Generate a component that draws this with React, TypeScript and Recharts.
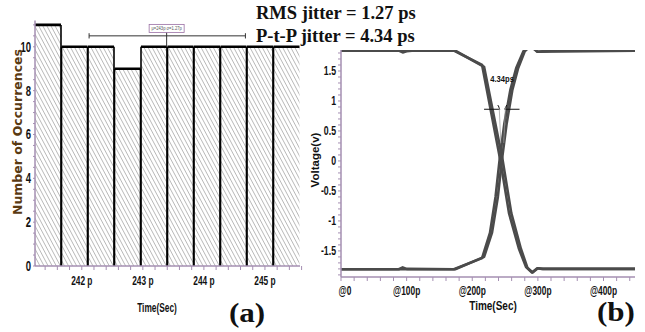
import React from 'react';
import { ComposedChart, Bar, XAxis, YAxis, ReferenceLine, ReferenceDot, LineChart, Line } from 'recharts';

// ---- panel (a): jitter histogram ----
const binCenters = [241.451, 241.885, 242.319, 242.753, 243.187, 243.621, 244.055, 244.489, 244.923, 245.357];
const occurrences = [11, 10, 10, 9, 10, 10, 10, 10, 10, 10];
const histMajorTicks = [242, 243, 244, 245];
const histYLabels = [0, 2, 4, 6, 8, 10];
const histStats = { mean: 243.39, from: 242.12, to: 244.68, text: 'μ=243p σ=1.27p' };

// ---- panel (b): eye crossing ----
const fallingA = [
  { t: 0, v: 1.84 }, { t: 88, v: 1.84 }, { t: 94, v: 1.81 }, { t: 100, v: 1.83 }, { t: 108, v: 1.84 },
  { t: 172, v: 1.84 }, { t: 215, v: 1.6 }, { t: 243, v: 0 }, { t: 256, v: -0.87 }, { t: 271, v: -1.46 },
  { t: 282, v: -1.77 }, { t: 291, v: -1.86 }, { t: 299, v: -1.79 }, { t: 306, v: -1.8 }, { t: 448, v: -1.8 },
];
const fallingB = [
  { t: 0, v: 1.84 }, { t: 174, v: 1.84 }, { t: 218, v: 1.57 }, { t: 246.5, v: 0 }, { t: 259.5, v: -0.87 },
  { t: 274, v: -1.46 }, { t: 284, v: -1.78 }, { t: 292, v: -1.86 }, { t: 300, v: -1.79 }, { t: 308, v: -1.8 },
  { t: 448, v: -1.8 },
];
const risingA = [
  { t: 0, v: -1.805 }, { t: 88, v: -1.805 }, { t: 94, v: -1.775 }, { t: 100, v: -1.8 }, { t: 172, v: -1.805 },
  { t: 215, v: -1.62 }, { t: 227, v: -1.2 }, { t: 235.5, v: -0.6 }, { t: 241.5, v: 0 }, { t: 249, v: 0.63 },
  { t: 258, v: 1.18 }, { t: 267, v: 1.55 }, { t: 278, v: 1.83 }, { t: 286, v: 1.9 }, { t: 292, v: 1.89 },
  { t: 299, v: 1.82 }, { t: 308, v: 1.83 }, { t: 320, v: 1.84 }, { t: 448, v: 1.84 },
];
const risingB = [
  { t: 0, v: -1.805 }, { t: 174, v: -1.805 }, { t: 218, v: -1.6 }, { t: 230, v: -1.2 }, { t: 239, v: -0.6 },
  { t: 245, v: 0 }, { t: 252.5, v: 0.63 }, { t: 261, v: 1.18 }, { t: 270, v: 1.55 }, { t: 280, v: 1.83 },
  { t: 287, v: 1.9 }, { t: 293, v: 1.88 }, { t: 300, v: 1.82 }, { t: 448, v: 1.84 },
];
const eyeXLabels = [0, 100, 200, 300, 400];
const eyeYLabels = [-1.5, -1, -0.5, 0, 0.5, 1, 1.5];
const ptpMark = { level: 0.862, leftFrom: 218, leftTo: 242, rightFrom: 249.5, rightTo: 272, text: '4.34ps' };

const histData = binCenters.map((c, i) => ({ c, n: occurrences[i] }));

// minor ticks
const histXTicks: number[] = [];
for (let i = 0; i <= 21; i++) histXTicks.push(Math.round((241.4 + i * 0.2) * 10) / 10);
const histYTicks: number[] = [];
for (let i = 0; i <= 22; i++) histYTicks.push(i / 2);
const eyeXTicks: number[] = [];
for (let i = 0; i <= 22; i++) eyeXTicks.push(i * 20);
const eyeYTicks: number[] = [];
for (let i = -19; i <= 18; i++) eyeYTicks.push(i / 10);

const AXIS = '#a58fb2';
const SANS = '"Liberation Sans", Arial, sans-serif';
const SERIF = '"Liberation Serif", "DejaVu Serif", serif';
const TRACE = '#4b4b4b';

const near = (a: number, list: number[]) => list.some((m) => Math.abs(m - a) < 1e-6);

// condensed bold label, squeezed horizontally around its anchor
const Narrow = ({ x, y, anchor, size, sx = 0.68, children }: any) => (
  <g transform={`translate(${x},${y}) scale(${sx},1)`}>
    <text x={0} y={0} textAnchor={anchor} fontFamily={SANS} fontWeight="bold" fontSize={size} fill="#111">
      {children}
    </text>
  </g>
);

const HistXTick = (p: any) => {
  const v = p.payload.value;
  if (!near(v, histMajorTicks)) return null;
  return <Narrow x={p.x} y={p.y + 13} anchor="middle" size={13} sx={0.64}>{`${v} p`}</Narrow>;
};
const HistYTick = (p: any) => {
  const v = p.payload.value;
  if (!near(v, histYLabels)) return null;
  return <Narrow x={p.x} y={p.y + 5} anchor="end" size={14} sx={0.68}>{v}</Narrow>;
};
const EyeXTick = (p: any) => {
  const v = p.payload.value;
  if (!near(v, eyeXLabels)) return null;
  return <Narrow x={v === 0 ? p.x + 4 : p.x} y={p.y + 12} anchor="middle" size={12.5} sx={0.67}>{v === 0 ? '@0' : `@${v}p`}</Narrow>;
};
const EyeYTick = (p: any) => {
  const v = p.payload.value;
  if (!near(v, eyeYLabels)) return null;
  return <Narrow x={p.x} y={p.y + 4.5} anchor="end" size={12.5} sx={0.7}>{v}</Narrow>;
};

const HatchBar = (p: any) => {
  const { x, y, width, height, index } = p;
  return (
    <g>
      <rect x={x} y={y} width={width} height={height} fill="url(#hatch)" />
      {index > 0 && <line x1={x} x2={x} y1={y} y2={y + height} stroke="#000" strokeWidth={1.6} />}
      {index < occurrences.length - 1 && (
        <line x1={x + width} x2={x + width} y1={y} y2={y + height} stroke="#000" strokeWidth={1.6} />
      )}
      <line x1={x} x2={x + width} y1={y} y2={y} stroke="#000" strokeWidth={2.6} />
    </g>
  );
};

const StatsBox = (p: any) => (
  <g>
    <rect x={p.cx - 17.5} y={p.cy - 4} width={35} height={8} fill="#fff" stroke="#9a70a4" strokeWidth={0.8} />
    <g transform={`translate(${p.cx},${p.cy + 2}) scale(0.75,1)`}>
      <text x={0} y={0} textAnchor="middle" fontFamily={SANS} fontSize={5.5} fill="#555">
        {histStats.text}
      </text>
    </g>
  </g>
);
const PtpText = (p: any) => <Narrow x={p.cx} y={p.cy + 3} anchor="middle" size={9.5} sx={0.8}>{ptpMark.text}</Narrow>;

function Histogram() {
  const capY = 0.12;
  return (
    <ComposedChart width={310} height={332} data={histData} margin={{ top: 20.5, right: 10, bottom: 36, left: 0 }} barCategoryGap={0} barGap={0}>
      <defs>
        <pattern id="hatch" width="3.6" height="3.6" patternUnits="userSpaceOnUse" patternTransform="rotate(-28)">
          <line x1="0" y1="0" x2="0" y2="3.6" stroke="#8c8c8c" strokeWidth={1.1} />
        </pattern>
      </defs>
      <XAxis
        dataKey="c"
        type="number"
        domain={[241.234, 245.574]}
        allowDataOverflow
        ticks={histXTicks}
        interval={0}
        tick={<HistXTick />}
        tickSize={4}
        height={30}
        stroke={AXIS}
        axisLine={{ stroke: AXIS, strokeWidth: 1.5 }}
      />
      <YAxis
        type="number"
        domain={[0, 11.2]}
        allowDataOverflow
        ticks={histYTicks}
        interval={0}
        tick={<HistYTick />}
        tickSize={2}
        width={35}
        stroke={AXIS}
        axisLine={{ stroke: AXIS, strokeWidth: 1.5 }}
      />
      <Bar dataKey="n" shape={<HatchBar />} isAnimationActive={false} />
      <ReferenceLine segment={[{ x: histStats.from, y: 10.5 }, { x: histStats.to, y: 10.5 }]} stroke="#333" strokeWidth={1} />
      <ReferenceLine segment={[{ x: histStats.from, y: 10.5 - capY }, { x: histStats.from, y: 10.5 + capY }]} stroke="#333" strokeWidth={1} />
      <ReferenceLine segment={[{ x: histStats.to, y: 10.5 - capY }, { x: histStats.to, y: 10.5 + capY }]} stroke="#333" strokeWidth={1} />
      <ReferenceLine segment={[{ x: histStats.mean, y: 10.66 }, { x: histStats.mean, y: 10 }]} stroke="#333" strokeWidth={1} />
      <ReferenceDot x={histStats.mean} y={10.84} r={0} shape={<StatsBox />} />
    </ComposedChart>
  );
}

function EyeCrossing() {
  const lineProps = {
    dataKey: 'v',
    type: 'linear' as const,
    stroke: TRACE,
    strokeWidth: 2.6,
    dot: false,
    isAnimationActive: false,
    strokeLinejoin: 'round' as const,
  };
  return (
    <LineChart width={345} height={332} margin={{ top: 50, right: 10, bottom: 25, left: 0 }}>
      <XAxis
        dataKey="t"
        type="number"
        domain={[0, 448]}
        allowDataOverflow
        ticks={eyeXTicks}
        interval={0}
        tick={<EyeXTick />}
        tickSize={4}
        height={30}
        stroke={AXIS}
        axisLine={{ stroke: AXIS, strokeWidth: 1.5 }}
      />
      <YAxis
        type="number"
        domain={[-1.935, 1.85]}
        allowDataOverflow
        ticks={eyeYTicks}
        interval={0}
        tick={<EyeYTick />}
        tickSize={3}
        width={41}
        stroke={AXIS}
        axisLine={{ stroke: AXIS, strokeWidth: 1.5 }}
      />
      <Line data={fallingA} {...lineProps} />
      <Line data={fallingB} {...lineProps} />
      <Line data={risingA} {...lineProps} />
      <Line data={risingB} {...lineProps} />
      <ReferenceLine segment={[{ x: ptpMark.leftFrom, y: ptpMark.level }, { x: ptpMark.leftTo, y: ptpMark.level }]} stroke="#111" strokeWidth={1} />
      <ReferenceLine segment={[{ x: ptpMark.rightFrom, y: ptpMark.level }, { x: ptpMark.rightTo, y: ptpMark.level }]} stroke="#111" strokeWidth={1} />
      <ReferenceLine segment={[{ x: ptpMark.leftTo, y: ptpMark.level }, { x: ptpMark.leftTo - 3, y: ptpMark.level + 0.07 }]} stroke="#111" strokeWidth={1} />
      <ReferenceLine segment={[{ x: ptpMark.rightFrom, y: ptpMark.level }, { x: ptpMark.rightFrom + 3, y: ptpMark.level + 0.07 }]} stroke="#111" strokeWidth={1} />
      <ReferenceLine segment={[{ x: ptpMark.leftTo - 1, y: ptpMark.level + 0.05 }, { x: ptpMark.leftTo + 1.5, y: 0.3 }]} stroke="#999" strokeWidth={0.7} />
      <ReferenceLine segment={[{ x: ptpMark.rightFrom + 1, y: ptpMark.level + 0.05 }, { x: ptpMark.rightFrom - 1.5, y: 0.3 }]} stroke="#999" strokeWidth={0.7} />
      <ReferenceDot x={245.5} y={1.37} r={0} shape={<PtpText />} />
    </LineChart>
  );
}

export default function App() {
  return (
    <div style={{ position: 'relative', width: 645, height: 332, background: '#fff', overflow: 'hidden' }}>
      <style>{'body{margin:0}'}</style>
      <div style={{ position: 'absolute', left: 0, top: 0 }}>
        <Histogram />
      </div>
      <div style={{ position: 'absolute', left: 300, top: 0 }}>
        <EyeCrossing />
      </div>
      {/* axis titles */}
      <div
        style={{
          position: 'absolute', left: 17, top: 132, transform: 'translate(-50%, -50%) rotate(-90deg)',
          whiteSpace: 'nowrap', fontFamily: '"DejaVu Sans", sans-serif', fontWeight: 'bold', fontSize: 12.5, color: '#5a3a12',
        }}
      >
        Number of Occurrences
      </div>
      <div
        style={{
          position: 'absolute', left: 315, top: 160, transform: 'translate(-50%, -50%) rotate(-90deg)',
          whiteSpace: 'nowrap', fontFamily: SANS, fontWeight: 'bold', fontSize: 11.5, color: '#111',
        }}
      >
        Voltage(v)
      </div>
      <div style={{ position: 'absolute', left: 157, top: 307, transform: 'translate(-50%, -50%) scaleX(0.64)', fontFamily: SANS, fontWeight: 'bold', fontSize: 13, color: '#111', whiteSpace: 'nowrap' }}>
        Time(Sec)
      </div>
      <div style={{ position: 'absolute', left: 493, top: 305, transform: 'translate(-50%, -50%) scaleX(0.74)', fontFamily: SANS, fontWeight: 'bold', fontSize: 13.5, color: '#111', whiteSpace: 'nowrap' }}>
        Time(Sec)
      </div>
      {/* jitter summary */}
      <div style={{ position: 'absolute', left: 256, top: 2, fontFamily: SERIF, fontWeight: 'bold', fontSize: 18.5, lineHeight: '23px', color: '#111', whiteSpace: 'nowrap' }}>
        RMS jitter = 1.27 ps
        <br />
        P-t-P jitter = 4.34 ps
      </div>
      <div style={{ position: 'absolute', left: 229, top: 300, transformOrigin: 'left top', transform: 'scaleX(1.15)', fontFamily: SERIF, fontWeight: 'bold', fontSize: 27, lineHeight: '27px', color: '#111' }}>(a)</div>
      <div style={{ position: 'absolute', left: 597, top: 299, transformOrigin: 'left top', transform: 'scaleX(1.15)', fontFamily: SERIF, fontWeight: 'bold', fontSize: 27, lineHeight: '27px', color: '#111' }}>(b)</div>
    </div>
  );
}
